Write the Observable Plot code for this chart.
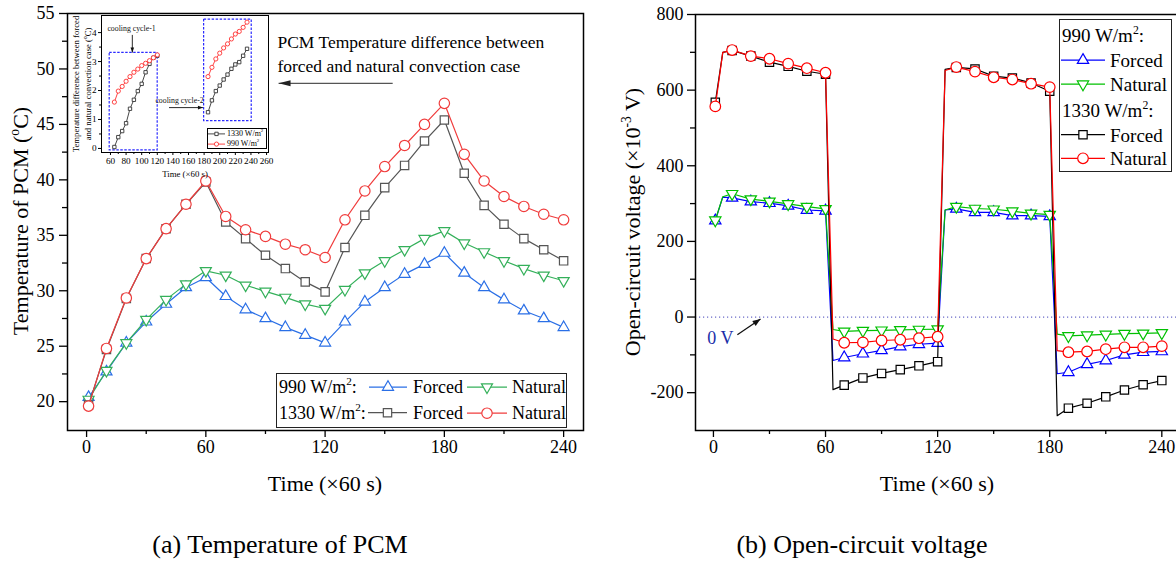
<!DOCTYPE html>
<html><head><meta charset="utf-8">
<script src="https://cdn.jsdelivr.net/npm/d3@7"></script>
<script src="https://cdn.jsdelivr.net/npm/@observablehq/plot@0.6"></script>
<style>
html,body{margin:0;padding:0;background:#fff;overflow:hidden;}
#root{position:relative;width:1176px;height:562px;overflow:hidden;background:#fff;font-family:"Liberation Serif","Times New Roman",serif;color:#000;}
#root svg{position:absolute;max-width:none;}
.lab{position:absolute;white-space:nowrap;line-height:1;}
sup{font-size:0.62em;line-height:0;position:relative;top:-0.05em;vertical-align:super;}
.box{position:absolute;border:1.3px solid #222;background:#fff;box-sizing:border-box;}
</style></head><body><div id="root"></div>
<script>
// ---------------- DATA ----------------
// (a) Temperature of PCM (°C)
const tempTime = [1,10,20,30,40,50,60,70,80,90,100,110,120,130,140,150,160,170,180,190,200,210,220,230,240];
const temp990Forced  = [20.4,22.7,25.3,27.2,28.8,30.3,31.2,29.5,28.3,27.5,26.7,26.0,25.3,27.2,29.0,30.3,31.5,32.4,33.4,31.6,30.3,29.2,28.2,27.5,26.7];
const temp990Natural = [20.2,22.8,25.3,27.4,29.2,30.6,31.8,31.4,30.5,29.95,29.4,28.8,28.4,30.1,31.6,32.7,33.7,34.7,35.4,34.3,33.5,32.7,32.0,31.4,30.9];
const temp1330Forced = [19.7,24.7,29.3,32.9,35.6,37.8,39.8,36.2,34.7,33.2,32.0,30.8,29.9,33.9,36.8,39.3,41.3,43.5,45.4,40.6,37.7,36.0,34.7,33.7,32.7];
const temp1330Natural= [19.6,24.8,29.35,32.9,35.6,37.8,39.9,36.7,35.5,34.9,34.2,33.7,33.0,36.4,39.0,41.2,43.1,45.0,46.9,42.3,39.9,38.5,37.6,36.9,36.4];
const tempXTicks = [0,60,120,180,240];
const tempXMinor = [30,90,150,210];
const tempYTicks = [20,25,30,35,40,45,50,55];
const tempYMinor = [22.5,27.5,32.5,37.5,42.5,47.5,52.5];

// inset: temperature difference (natural - forced), °C
const insetTime1 = [65,70,75,80,85,90,95,100,105,110,115,120];
const inset1330C1 = [0.05,0.39,0.6,0.87,1.37,1.68,1.98,2.23,2.63,2.92,3.13,3.2];
const inset990C1  = [1.6,1.98,2.14,2.32,2.48,2.63,2.74,2.86,2.94,3.03,3.13,3.23];
const insetTime2 = [185,190,195,200,205,210,215,220,225,230,235];
const inset1330C2 = [1.25,1.66,1.98,2.17,2.38,2.55,2.75,2.9,2.98,3.2,3.44];
const inset990C2  = [2.48,2.8,3.09,3.29,3.47,3.61,3.78,3.95,4.04,4.18,4.36];
const insetXTicks = [60,80,100,120,140,160,180,200,220,240,260];
const insetXMinor = [70,90,110,130,150,170,190,210,230,250];
const insetYTicks = [0,1,2,3,4];
const insetYMinor = [0.5,1.5,2.5,3.5];

// (b) Open-circuit voltage (×10^-3 V)
const ocvTime = [1,5,10,20,30,40,50,60,64,70,80,90,100,110,120,124,130,140,150,160,170,180,184,190,200,210,220,230,240];
const ocv990Forced  = [255,317,315,305,301,294,283,281,-115,-107,-97,-88,-78,-72,-69,283,286,277,277,268,268,266,-150,-146,-125,-115,-100,-93,-91];
const ocv990Natural = [256,318,326,312,306,299,292,286,-33,-38,-36,-35,-34,-33,-32,283,292,287,285,280,274,271,-45,-50,-48,-46,-44,-43,-42];
const ocv1330Forced = [568,700,705,690,674,663,650,642,-192,-180,-161,-149,-139,-129,-118,655,660,656,637,632,619,597,-261,-241,-228,-211,-193,-179,-168];
const ocv1330Natural= [557,700,706,690,683,670,658,646,-58,-68,-67,-62,-60,-56,-52,652,661,649,634,628,617,608,-89,-93,-91,-85,-80,-80,-77];
const ocvXTicks = [0,60,120,180,240];
const ocvXMinor = [30,90,150,210];
const ocvYTicks = [-200,0,200,400,600,800];
const ocvYMinor = [-100,100,300,500,700];

// annotations (data coordinates)
const noteLines = [
  {x: 96, y: 52.4, text: "PCM Temperature difference between"},
  {x: 96, y: 50.2, text: "forced and natural convection case"}
];
const noteArrow = [{x1: 154, y1: 48.7, x2: 96.6, y2: 48.7}];
const insetBoxes = [{x1: 59, x2: 120.5, y1: -0.07, y2: 3.3}, {x1: 180, x2: 241, y1: 0.94, y2: 4.45}];
const insetNotes = [{x: 87, y: 4.14, text: "cooling cycle-1"}, {x: 148.5, y: 1.66, text: "cooling cycle-2"}];
const insetArrows = [{x1: 88, y1: 3.92, x2: 88, y2: 3.31, dir: 90}, {x1: 135, y1: 1.41, x2: 178.5, y2: 1.41, dir: 0}];
const zeroNote = [{x: 3.7, y: -57, text: "0 V"}];
const zeroArrow = [{x1: 12.8, y1: -47, x2: 25.2, y2: -5, dir: -35}];

// ---------------- HELPERS ----------------
const root = document.getElementById("root");
const sqrt3 = Math.sqrt(3);
const triangleDown = {draw(ctx, size){ const y = -Math.sqrt(size/(sqrt3*3)); ctx.moveTo(0, -y*2); ctx.lineTo(-sqrt3*y, y); ctx.lineTo(sqrt3*y, y); ctx.closePath(); }};
function head(angleDeg, len, half){
  const a = angleDeg*Math.PI/180, c = Math.cos(a), s = Math.sin(a);
  return {draw(ctx){ const bx = -len*c, by = -len*s, px = -s*half, py = c*half;
    ctx.moveTo(0,0); ctx.lineTo(bx+px, by+py); ctx.lineTo(bx-px, by-py); ctx.closePath(); }};
}
const d3sym = {triangle: d3.symbolTriangle, square: d3.symbolSquare, circle: d3.symbolCircle};
function symType(s){ return typeof s === "string" ? d3sym[s] : s; }

function seriesMarks(times, vals, color, symbol, r, sw, keep){
  const rows = times.map((t,i)=>({t, v: vals[i]}));
  const mrows = keep ? rows.filter(keep) : rows;
  return [
    Plot.line(rows, {x:"t", y:"v", stroke: color, strokeWidth: sw}),
    Plot.dot(mrows, {x:"t", y:"v", stroke: color, fill:"white", symbol, r, strokeWidth: sw})
  ];
}
function place(node, left, top){ node.style.left = left+"px"; node.style.top = top+"px"; root.appendChild(node); return node; }
function label(html, x, y, o={}){
  const d = document.createElement("div"); d.className = "lab"; d.innerHTML = html;
  d.style.fontSize = (o.size||22)+"px";
  if (o.color) d.style.color = o.color;
  if (o.lh){ d.style.lineHeight = o.lh+"px"; d.style.textAlign = "center"; }
  d.style.transform = o.rot ? "translate(-50%,-50%) rotate(-90deg)" : (o.start ? "translate(0,-50%)" : "translate(-50%,-50%)");
  return place(d, x, y);
}
function swatch(x1, x2, y, color, symbol, r, sw){
  const w = x2-x1, h = 2*r+8;
  const svg = d3.create("svg").attr("width", w).attr("height", h).style("overflow","visible");
  svg.append("line").attr("x1",0).attr("x2",w).attr("y1",h/2).attr("y2",h/2).attr("stroke",color).attr("stroke-width",sw);
  svg.append("path").attr("d", d3.symbol(symType(symbol), Math.PI*r*r)()).attr("transform",`translate(${w/2},${h/2})`)
    .attr("fill","white").attr("stroke",color).attr("stroke-width",sw);
  place(svg.node(), x1, y-h/2);
}
const axisFont = {fontFamily: "Liberation Serif, Times New Roman, serif", color: "#000", background: "transparent", maxWidth: "none"};

// ---------------- (a) LEFT PANEL ----------------
const C = {blue:"#2a6fe6", green:"#34b05a", gray:"#555555", red:"#f03c3c"};
const left = Plot.plot({
  width: 600, height: 500, marginLeft: 67, marginRight: 17, marginTop: 13, marginBottom: 70,
  x: {domain: [-9.6, 250], label: null}, y: {domain: [17.4, 55], label: null},
  style: {...axisFont, fontSize: "18px"},
  marks: [
    Plot.axisX(tempXTicks, {tickSize: 7, tickPadding: 3, strokeWidth: 1.3, label: null}),
    Plot.axisX(tempXMinor, {tickSize: 4, strokeWidth: 1.3, tickFormat: () => "", label: null}),
    Plot.axisY(tempYTicks, {tickSize: 8, tickPadding: 5, strokeWidth: 1.3, label: null}),
    Plot.axisY(tempYMinor, {tickSize: 5, strokeWidth: 1.3, tickFormat: () => "", label: null}),
    ...seriesMarks(tempTime, temp990Forced, C.blue, "triangle", 4.1, 1.2),
    ...seriesMarks(tempTime, temp990Natural, C.green, triangleDown, 4.1, 1.2),
    ...seriesMarks(tempTime, temp1330Forced, C.gray, "square", 4.7, 1.2),
    ...seriesMarks(tempTime, temp1330Natural, C.red, "circle", 5.2, 1.2),
    Plot.text(noteLines, {x:"x", y:"y", text:"text", textAnchor:"start", fontSize: 17.5, fill:"#000"}),
    Plot.link(noteArrow, {x1:"x1", y1:"y1", x2:"x2", y2:"y2", stroke:"#555", strokeWidth: 1.4}),
    Plot.dot(noteArrow, {x:"x2", y:"y2", symbol: head(180, 12, 3), fill:"#222", stroke:"none", r: 1}),
    Plot.frame({stroke:"#000", strokeWidth: 1.5})
  ]
});
place(left, 0, 0);

// inset
const inset = Plot.plot({
  width: 220, height: 175, marginLeft: 34, marginRight: 19, marginTop: 2, marginBottom: 36,
  x: {domain: [48.5, 262.5], label: null}, y: {domain: [-0.14, 4.59], label: null},
  style: {...axisFont, fontSize: "9.2px"},
  marks: [
    Plot.frame({fill: "white", stroke: "none"}),
    Plot.axisX(insetXTicks, {tickSize: 3, tickPadding: 1.5, strokeWidth: 1, label: null}),
    Plot.axisX(insetXMinor, {tickSize: 2, strokeWidth: 1, tickFormat: () => "", label: null}),
    Plot.axisY(insetYTicks, {tickSize: 3, tickPadding: 2, strokeWidth: 1, label: null}),
    Plot.axisY(insetYMinor, {tickSize: 2, strokeWidth: 1, tickFormat: () => "", label: null}),
    Plot.rect(insetBoxes, {x1:"x1", x2:"x2", y1:"y1", y2:"y2", fill:"none", stroke:"#2a2aff", strokeWidth: 1.2, strokeDasharray: "2.5,1.5"}),
    ...seriesMarks(insetTime1, inset1330C1, "#333", "square", 1.9, 0.9),
    ...seriesMarks(insetTime2, inset1330C2, "#333", "square", 1.9, 0.9),
    ...seriesMarks(insetTime1, inset990C1, "#ff3030", "circle", 2.1, 0.9),
    ...seriesMarks(insetTime2, inset990C2, "#ff3030", "circle", 2.1, 0.9),
    Plot.text(insetNotes, {x:"x", y:"y", text:"text", fontSize: 7.8, fill:"#111"}),
    Plot.link(insetArrows, {x1:"x1", y1:"y1", x2:"x2", y2:"y2", stroke:"#111", strokeWidth: 0.9}),
    Plot.dot(insetArrows.filter(d => d.dir === 90), {x:"x2", y:"y2", symbol: head(90, 5, 1.8), fill:"#111", stroke:"none", r: 1}),
    Plot.dot(insetArrows.filter(d => d.dir === 0), {x:"x2", y:"y2", symbol: head(0, 5, 1.8), fill:"#111", stroke:"none", r: 1}),
    Plot.frame({stroke:"#000", strokeWidth: 1})
  ]
});
place(inset, 67, 13);

// ---------------- (b) RIGHT PANEL ----------------
const R = {blue:"#0000ff", green:"#00c000", black:"#000000", red:"#ff0000"};
const marked = d => d.t === 1 || d.t % 10 === 0;
const right = Plot.plot({
  width: 600, height: 500, marginLeft: 95, marginRight: 20, marginTop: 14, marginBottom: 70,
  x: {domain: [-9.6, 250], label: null}, y: {domain: [-300, 800], label: null},
  style: {...axisFont, fontSize: "18px"},
  marks: [
    Plot.axisX(ocvXTicks, {tickSize: 7, tickPadding: 3, strokeWidth: 1.3, label: null}),
    Plot.axisX(ocvXMinor, {tickSize: 4, strokeWidth: 1.3, tickFormat: () => "", label: null}),
    Plot.axisY(ocvYTicks, {tickSize: 8, tickPadding: 4, strokeWidth: 1.3, tickFormat: d => String(d), label: null}),
    Plot.axisY(ocvYMinor, {tickSize: 5, strokeWidth: 1.3, tickFormat: () => "", label: null}),
    Plot.ruleY([0], {stroke: "#6a6ac8", strokeWidth: 1.2, strokeDasharray: "1.2,2.8"}),
    ...seriesMarks(ocvTime, ocv990Forced, R.blue, "triangle", 4.2, 1.2, marked),
    ...seriesMarks(ocvTime, ocv990Natural, R.green, triangleDown, 4.2, 1.2, marked),
    ...seriesMarks(ocvTime, ocv1330Forced, R.black, "square", 4.7, 1.2, marked),
    ...seriesMarks(ocvTime, ocv1330Natural, R.red, "circle", 5.3, 1.2, marked),
    Plot.text(zeroNote, {x:"x", y:"y", text:"text", fontSize: 18, fill:"#1a2ea8"}),
    Plot.link(zeroArrow, {x1:"x1", y1:"y1", x2:"x2", y2:"y2", stroke:"#111", strokeWidth: 1.3}),
    Plot.dot(zeroArrow, {x:"x2", y:"y2", symbol: head(-35, 8, 3), fill:"#111", stroke:"none", r: 1}),
    Plot.frame({stroke:"#000", strokeWidth: 1.5})
  ]
});
place(right, 600, 0);

// ---------------- TEXT: axis titles, captions ----------------
label("Temperature of PCM (<sup>o</sup>C)", 21, 221, {rot: true, size: 22});
label("Time (×60 s)", 325, 484, {size: 22});
label("(a) Temperature of PCM", 280, 545, {size: 26});
label("Open-circuit voltage (×10<sup>-3</sup> V)", 633, 222, {rot: true, size: 22});
label("Time (×60 s)", 937, 484, {size: 22});
label("(b) Open-circuit voltage", 862, 545, {size: 26});
// inset titles
label("Temperature difference between forced<br>and natural convection case (<sup>o</sup>C)", 81.5, 84, {rot: true, size: 8.7, lh: 12});
label("Time (×60 s)", 185, 174, {size: 8.8});

// ---------------- LEGENDS ----------------
// left legend
const lb = document.createElement("div"); lb.className = "box"; lb.style.width = "291px"; lb.style.height = "55px"; place(lb, 276, 373);
label("990 W/m<sup>2</sup>:", 279, 387, {start: true, size: 18});
swatch(369, 407, 387, C.blue, "triangle", 4.1, 1.2);
label("Forced", 413, 387, {start: true, size: 18});
swatch(467, 507, 387, C.green, triangleDown, 4.1, 1.2);
label("Natural", 512, 387, {start: true, size: 18});
label("1330 W/m<sup>2</sup>:", 279, 413, {start: true, size: 18});
swatch(368, 407, 413, C.gray, "square", 4.7, 1.2);
label("Forced", 413, 413, {start: true, size: 18});
swatch(467, 507, 413, C.red, "circle", 5.2, 1.2);
label("Natural", 512, 413, {start: true, size: 18});

// inset legend
const ib = document.createElement("div"); ib.className = "box"; ib.style.border = "1px solid #000"; ib.style.width = "60px"; ib.style.height = "21px"; place(ib, 207, 128);
swatch(208, 225, 133.5, "#333", "square", 1.9, 0.9);
label("1330 W/m<sup>2</sup>", 227, 133.5, {start: true, size: 8});
swatch(208, 225, 144, "#ff3030", "circle", 2.1, 0.9);
label("990 W/m<sup>2</sup>", 227, 144, {start: true, size: 8});

// right legend
const rb = document.createElement("div"); rb.className = "box"; rb.style.width = "113px"; rb.style.height = "153px"; place(rb, 1059, 19);
label("990 W/m<sup>2</sup>:", 1062, 35, {start: true, size: 19});
swatch(1061, 1105, 60, R.blue, "triangle", 4.2, 1.2);
label("Forced", 1110, 60, {start: true, size: 19});
swatch(1061, 1105, 84, R.green, triangleDown, 4.2, 1.2);
label("Natural", 1110, 84, {start: true, size: 19});
label("1330 W/m<sup>2</sup>:", 1062, 110, {start: true, size: 19});
swatch(1061, 1105, 135, R.black, "square", 4.7, 1.2);
label("Forced", 1110, 135, {start: true, size: 19});
swatch(1061, 1105, 158, R.red, "circle", 5.3, 1.2);
label("Natural", 1110, 158, {start: true, size: 19});
</script></body></html>
